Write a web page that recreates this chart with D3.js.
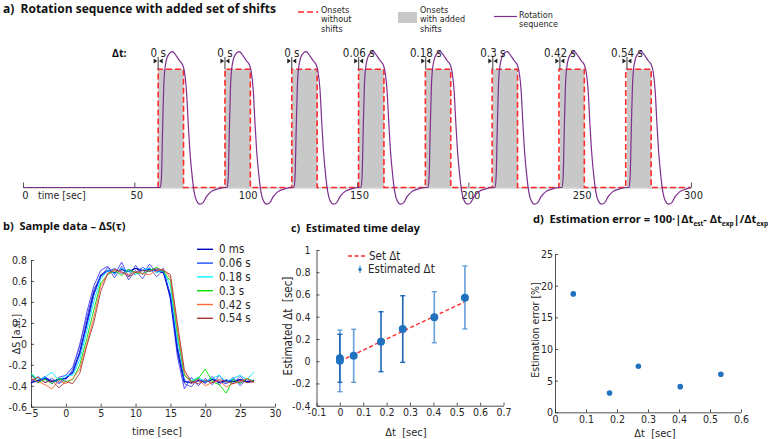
<!DOCTYPE html>
<html>
<head>
<meta charset="utf-8">
<script src="https://cdn.jsdelivr.net/npm/d3@7"></script>
<style>
body { margin: 0; background: #fff; }
svg text { font-family: "Liberation Sans Narrow", "DejaVu Sans Condensed", "Open Sans", sans-serif; fill: #262626; white-space: pre; }
svg text.ttl { font-family: "Open Sans", sans-serif; font-weight: bold; fill: #111; }
</style>
</head>
<body>
<svg id="fig" width="770" height="439"></svg>
<script>
// ---- panel a data ----
var shiftLabels = ["0 s", "0 s", "0 s", "0.06 s", "0.18 s", "0.3 s", "0.42 s", "0.54 s"];
var shifts = [0, 0, 0, 0.06, 0.18, 0.3, 0.42, 0.54];
var onsets = [60.7, 90.7, 120.7, 150.7, 180.7, 210.7, 240.7, 270.7];
var offsets = [72.1, 102.1, 132.1, 162.1, 192.1, 222.1, 252.1, 282.1];
var axisTicksA = [0, 50, 100, 150, 200, 250, 300];

// rotation sequence: times of each cycle and the levels seen in every cycle
var rotTimes = [
	[60.7, 61.7, 62.2, 62.7, 63.2, 63.7, 65.2, 67.1, 69.0, 70.4, 71.6, 72.4, 73.4, 74.2, 74.9, 76.0, 76.8, 77.9, 79.4, 80.8, 82.3, 84.5, 87.5],
	[90.7, 91.7, 92.2, 92.7, 93.2, 93.7, 95.2, 97.1, 99.0, 100.4, 101.6, 102.4, 103.4, 104.2, 104.9, 106.0, 106.8, 107.9, 109.4, 110.8, 112.3, 114.5, 117.5],
	[120.7, 121.7, 122.2, 122.7, 123.2, 123.7, 125.2, 127.1, 129.0, 130.4, 131.6, 132.4, 133.4, 134.2, 134.9, 136.0, 136.8, 137.9, 139.4, 140.8, 142.3, 144.5, 147.5],
	[150.8, 151.8, 152.3, 152.8, 153.3, 153.8, 155.3, 157.2, 159.1, 160.5, 161.7, 162.5, 163.5, 164.3, 165.0, 166.1, 166.9, 168.0, 169.5, 170.9, 172.4, 174.6, 177.6],
	[180.9, 181.9, 182.4, 182.9, 183.4, 183.9, 185.4, 187.3, 189.2, 190.6, 191.8, 192.6, 193.6, 194.4, 195.1, 196.2, 197.0, 198.1, 199.6, 201.0, 202.5, 204.7, 207.7],
	[211.0, 212.0, 212.5, 213.0, 213.5, 214.0, 215.5, 217.4, 219.3, 220.7, 221.9, 222.7, 223.7, 224.5, 225.2, 226.3, 227.1, 228.2, 229.7, 231.1, 232.6, 234.8, 237.8],
	[241.1, 242.1, 242.6, 243.1, 243.6, 244.1, 245.6, 247.5, 249.4, 250.8, 252.0, 252.8, 253.8, 254.6, 255.3, 256.4, 257.2, 258.3, 259.8, 261.2, 262.7, 264.9, 267.9],
	[271.2, 272.2, 272.7, 273.2, 273.7, 274.2, 275.7, 277.6, 279.5, 280.9, 282.1, 282.9, 283.9, 284.7, 285.4, 286.5, 287.3, 288.4, 289.9, 291.3, 292.8, 295.0, 298.0]
];
var rotLevels = [0, 0, 0.1, 0.5, 0.85, 1.0, 1.12, 1.15, 1.11, 1.07, 1.04, 0.99, 0.82, 0.54, 0.32, 0.09, -0.03, -0.11, -0.14, -0.13, -0.08, -0.035, -0.012];

// ---- panel b data ----
var bTime = [-5, -4, -3, -2, -1, 0, 1, 2, 3, 4, 5, 6, 7, 8, 9, 10, 11, 12, 13, 14, 15, 16, 17, 18, 19, 20, 21, 22, 23, 24, 25, 26, 27];
var bNoisyA = [-0.3, -0.36, -0.31, -0.38, -0.32, -0.3, -0.22, -0.02, 0.3, 0.55, 0.7, 0.74, 0.66, 0.78, 0.64, 0.75, 0.66, 0.76, 0.68, 0.72, 0.42, -0.12, -0.43, -0.32, -0.4, -0.33, -0.39, -0.3, -0.38, -0.32, -0.4, -0.33, -0.37];
var bNoisyB = [-0.38, -0.31, -0.37, -0.33, -0.38, -0.34, -0.24, 0.0, 0.25, 0.52, 0.64, 0.73, 0.63, 0.74, 0.61, 0.7, 0.62, 0.73, 0.64, 0.7, 0.46, -0.08, -0.38, -0.41, -0.33, -0.38, -0.31, -0.39, -0.34, -0.38, -0.31, -0.37, -0.36];
var b000 = [-0.37, -0.35, -0.33, -0.36, -0.34, -0.33, -0.27, -0.08, 0.2, 0.48, 0.65, 0.7, 0.68, 0.71, 0.69, 0.72, 0.7, 0.71, 0.7, 0.68, 0.45, -0.05, -0.36, -0.37, -0.35, -0.36, -0.34, -0.37, -0.35, -0.36, -0.34, -0.36, -0.35];
var b006 = [-0.34, -0.37, -0.32, -0.35, -0.37, -0.32, -0.28, -0.1, 0.17, 0.46, 0.66, 0.69, 0.72, 0.67, 0.71, 0.68, 0.73, 0.69, 0.71, 0.69, 0.47, -0.02, -0.35, -0.38, -0.34, -0.37, -0.33, -0.36, -0.38, -0.34, -0.37, -0.33, -0.36];
var b018 = [-0.28, -0.34, -0.32, -0.27, -0.35, -0.3, -0.3, -0.15, 0.12, 0.4, 0.62, 0.7, 0.67, 0.72, 0.69, 0.66, 0.7, 0.72, 0.68, 0.7, 0.55, 0.05, -0.3, -0.35, -0.32, -0.36, -0.33, -0.3, -0.36, -0.33, -0.3, -0.34, -0.27];
var b030 = [-0.28, -0.37, -0.34, -0.38, -0.33, -0.36, -0.34, -0.2, 0.05, 0.32, 0.58, 0.66, 0.7, 0.65, 0.71, 0.68, 0.67, 0.7, 0.73, 0.69, 0.6, 0.1, -0.3, -0.36, -0.33, -0.24, -0.36, -0.39, -0.47, -0.34, -0.38, -0.33, -0.36];
var b042 = [-0.33, -0.36, -0.39, -0.43, -0.35, -0.38, -0.33, -0.24, 0.0, 0.25, 0.55, 0.67, 0.7, 0.68, 0.66, 0.69, 0.67, 0.66, 0.7, 0.71, 0.63, 0.15, -0.28, -0.38, -0.34, -0.4, -0.37, -0.35, -0.41, -0.38, -0.36, -0.33, -0.37];
var b054 = [-0.35, -0.32, -0.37, -0.35, -0.42, -0.36, -0.38, -0.28, -0.02, 0.2, 0.5, 0.67, 0.71, 0.69, 0.64, 0.68, 0.7, 0.69, 0.72, 0.7, 0.66, 0.2, -0.25, -0.36, -0.38, -0.35, -0.37, -0.34, -0.36, -0.38, -0.35, -0.37, -0.36];
var bSeries = [bNoisyA, bNoisyB, b000, b006, b018, b030, b042, b054];
var bColors = ["#3b3bff", "#5050e0", "#0000c0", "#1a4dff", "#00e8ff", "#00dd00", "#ff6a30", "#a83a3a"];
var bLegendNames = ["0 ms", "0.06 s", "0.18 s", "0.3 s", "0.42 s", "0.54 s"];
var bLegendColors = ["#0000c0", "#1a4dff", "#00ffff", "#00e000", "#ff6a30", "#a83a3a"];
var bTicksX = [-5, 0, 5, 10, 15, 20, 25, 30];
var bTicksY = [-0.6, -0.4, -0.2, 0, 0.2, 0.4, 0.6, 0.8];

// ---- panel c data ----
var cSet = [0, 0.535];
var cX = [0, 0, 0.059, 0.176, 0.269, 0.404, 0.535];
var cEst = [0.026, 0.005, 0.05, 0.175, 0.29, 0.395, 0.571];
var cHi = [0.28, 0.242, 0.287, 0.445, 0.589, 0.625, 0.856];
var cLo = [-0.274, -0.19, -0.19, -0.094, -0.01, 0.166, 0.29];
var cBarColor = ["#64a0d7", "#1e64b4", "#64a0d7", "#1e64b4", "#1e64b4", "#64a0d7", "#64a0d7"];
var cTicksX = [-0.1, 0, 0.1, 0.2, 0.3, 0.4, 0.5, 0.6, 0.7];
var cTicksY = [-0.4, -0.2, 0, 0.2, 0.4, 0.6, 0.8, 1];

// ---- panel d data ----
var dX = [0.059, 0.176, 0.269, 0.404, 0.535];
var dErr = [18.7, 3.05, 7.27, 4.05, 6.0];
var dTicksX = [0, 0.1, 0.2, 0.3, 0.4, 0.5, 0.6];
var dTicksY = [0, 5, 10, 15, 20, 25];

var svg = d3.select("#fig");
var axisColor = "#262626";
var tickFont = "10.5px";

function styleAxis(g)
{
	g.attr("font-family", null).attr("font-size", null);
	g.select(".domain").attr("stroke", axisColor).attr("stroke-width", 0.8);
	g.selectAll(".tick line").attr("stroke", axisColor).attr("stroke-width", 0.8);
	g.selectAll(".tick text").attr("fill", axisColor).style("font-size", tickFont);
}

function title(x, y, size, txt)
{
	return svg.append("text").attr("class", "ttl").attr("x", x).attr("y", y)
		.style("font-size", size).text(txt);
}

// ================= panel a =================
var xa = d3.scaleLinear().domain([0, 300]).range([23, 691]);
var ya = d3.scaleLinear().domain([0, 1]).range([187.5, 69.3]);

title(3, 13, "12px", "a)  Rotation sequence with added set of shifts");

var axA = svg.append("g")
	.attr("transform", `translate(0, ${ya(0)})`)
	.call(d3.axisBottom(xa).tickValues(axisTicksA).tickSizeInner(-5).tickSizeOuter(0).tickPadding(4));
styleAxis(axA);
axA.select(".domain").attr("stroke", "#aaa");
axA.selectAll(".tick text").attr("x", 2).style("font-size", "11px");
svg.append("text").attr("x", 38).attr("y", 199).style("font-size", "10.5px").text("time [sec]");

// gray shifted onsets
svg.append("g").selectAll("rect")
	.data(onsets)
	.enter().append("rect")
	.attr("x", function(d, i) { return xa(d + shifts[i]); })
	.attr("y", ya(1))
	.attr("width", function(d, i) { return xa(offsets[i]) - xa(d + shifts[i]); })
	.attr("height", ya(0) - ya(1))
	.attr("fill", "#c8c8c8");

// red dashed onsets without shifts
var boxPts = [];
onsets.forEach(function(d, i) {
	boxPts.push([d, 0], [d, 1], [offsets[i], 1], [offsets[i], 0]);
});
boxPts.push([300, 0]);
svg.append("path")
	.attr("d", d3.line().x(function(d) { return xa(d[0]); }).y(function(d) { return ya(d[1]); })(boxPts))
	.attr("fill", "none")
	.attr("stroke", "#ff2a2a")
	.attr("stroke-width", 1.6)
	.attr("stroke-dasharray", "6,3");

// rotation sequence
var rotPts = [[0, 0]];
rotTimes.forEach(function(row) {
	row.forEach(function(t, j) { rotPts.push([t, rotLevels[j]]); });
});
rotPts.push([300, 0]);
svg.append("path")
	.attr("d", d3.line().curve(d3.curveMonotoneX)
		.x(function(d) { return xa(d[0]); }).y(function(d) { return ya(d[1]); })(rotPts))
	.attr("fill", "none")
	.attr("stroke", "#7e2f8e")
	.attr("stroke-width", 1.2);

// shift labels and markers
svg.append("text").attr("class", "ttl").attr("x", 112).attr("y", 56.5)
	.style("font-size", "10.5px").text("Δt:");
var mk = svg.append("g").selectAll("g")
	.data(onsets)
	.enter().append("g")
	.attr("transform", function(d, i) { return `translate(${xa(d + shifts[i])}, 61)`; });
mk.append("text")
	.attr("y", -4.5).attr("text-anchor", "middle").style("font-size", "11.5px")
	.text(function(d, i) { return shiftLabels[i]; });
mk.append("path").attr("d", "M-4.5,-2.5L-0.8,0L-4.5,2.5Z").attr("fill", "#222");
mk.append("path").attr("d", "M4.5,-2.5L0.8,0L4.5,2.5Z").attr("fill", "#222");
mk.append("line").attr("x1", 0).attr("x2", 0).attr("y1", -4).attr("y2", ya(1) - 61)
	.attr("stroke", "#222").attr("stroke-width", 0.9);

// legend a
svg.append("line").attr("x1", 298).attr("x2", 318).attr("y1", 12).attr("y2", 12)
	.attr("stroke", "#ff2a2a").attr("stroke-width", 1.6).attr("stroke-dasharray", "6,3");
svg.append("rect").attr("x", 398).attr("y", 12).attr("width", 19).attr("height", 11).attr("fill", "#c8c8c8");
svg.append("line").attr("x1", 494).attr("x2", 517).attr("y1", 16.5).attr("y2", 16.5)
	.attr("stroke", "#7e2f8e").attr("stroke-width", 1.2);
var legA = [
	{x: 321, lines: ["Onsets", "without", "shifts"], y0: 12.5},
	{x: 420, lines: ["Onsets", "with added", "shifts"], y0: 12.5},
	{x: 519, lines: ["Rotation", "sequence"], y0: 17.5}
];
legA.forEach(function(l) {
	l.lines.forEach(function(s, i) {
		svg.append("text").attr("x", l.x).attr("y", l.y0 + i * 9.5).style("font-size", "9px").text(s);
	});
});

// ================= panel b =================
var xb = d3.scaleLinear().domain([-5, 30]).range([31, 275]);
var yb = d3.scaleLinear().domain([-0.6, 0.8]).range([406.7, 260]);

title(3, 230, "11px", "b)  Sample data – ΔS(τ)");

var axBx = svg.append("g").attr("transform", `translate(0, ${yb(-0.6)})`)
	.call(d3.axisBottom(xb).tickValues(bTicksX).tickSizeInner(-3).tickSizeOuter(0).tickPadding(3));
styleAxis(axBx);
var axBy = svg.append("g").attr("transform", `translate(${xb(-5)}, 0)`)
	.call(d3.axisLeft(yb).tickValues(bTicksY).tickFormat(function(d) { return String(d); })
		.tickSizeInner(-3).tickSizeOuter(0).tickPadding(4));
styleAxis(axBy);

var lineB = d3.line()
	.x(function(d, i) { return xb(bTime[i]); })
	.y(function(d) { return yb(d); });
svg.append("g").selectAll("path")
	.data(bSeries)
	.enter().append("path")
	.attr("d", lineB)
	.attr("fill", "none")
	.attr("stroke", function(d, i) { return bColors[i]; })
	.attr("stroke-width", function(d, i) { return i == 2 ? 1.4 : 0.9; });

var legB = svg.append("g").selectAll("g")
	.data(bLegendNames)
	.enter().append("g")
	.attr("transform", function(d, i) { return `translate(197, ${249.3 + i * 13.8})`; });
legB.append("line").attr("x1", 0).attr("x2", 16)
	.attr("stroke", function(d, i) { return bLegendColors[i]; }).attr("stroke-width", 1.4);
legB.append("text").attr("x", 22).attr("y", 4).style("font-size", "11.5px").text(function(d) { return d; });

svg.append("text").attr("x", 157).attr("y", 435).attr("text-anchor", "middle").style("font-size", "11px").text("time [sec]");
svg.append("text").attr("transform", "translate(20, 334) rotate(-90)").attr("text-anchor", "middle")
	.style("font-size", "10.5px").text("ΔS [a.u.]");

// ================= panel c =================
var xc = d3.scaleLinear().domain([-0.1, 0.7]).range([316.5, 503.5]);
var yc = d3.scaleLinear().domain([-0.4, 1]).range([405.7, 250]);

title(291, 232, "10.8px", "c)  Estimated time delay");

var axCx = svg.append("g").attr("transform", `translate(0, ${yc(-0.4)})`)
	.call(d3.axisBottom(xc).tickValues(cTicksX).tickFormat(function(d) { return String(d); })
		.tickSizeInner(-3).tickSizeOuter(0).tickPadding(3));
styleAxis(axCx);
var axCy = svg.append("g").attr("transform", `translate(${xc(-0.1)}, 0)`)
	.call(d3.axisLeft(yc).tickValues(cTicksY).tickFormat(function(d) { return String(d); })
		.tickSizeInner(-3).tickSizeOuter(0).tickPadding(6));
styleAxis(axCy);

svg.append("line")
	.attr("x1", xc(cSet[0])).attr("y1", yc(cSet[0]))
	.attr("x2", xc(cSet[1])).attr("y2", yc(cSet[1]))
	.attr("stroke", "#ff2a2a").attr("stroke-width", 1.4).attr("stroke-dasharray", "4,2.5");

var eb = svg.append("g").selectAll("g")
	.data(cX)
	.enter().append("g");
eb.append("line")
	.attr("x1", function(d) { return xc(d); }).attr("x2", function(d) { return xc(d); })
	.attr("y1", function(d, i) { return yc(cHi[i]); }).attr("y2", function(d, i) { return yc(cLo[i]); })
	.attr("stroke", function(d, i) { return cBarColor[i]; }).attr("stroke-width", 1.6);
[cHi, cLo].forEach(function(arr) {
	eb.append("line")
		.attr("x1", function(d) { return xc(d) - 2.5; }).attr("x2", function(d) { return xc(d) + 2.5; })
		.attr("y1", function(d, i) { return yc(arr[i]); }).attr("y2", function(d, i) { return yc(arr[i]); })
		.attr("stroke", function(d, i) { return cBarColor[i]; }).attr("stroke-width", 1.4);
});
eb.append("circle")
	.attr("cx", function(d) { return xc(d); })
	.attr("cy", function(d, i) { return yc(cEst[i]); })
	.attr("r", 4).attr("fill", "#1f72c0");

svg.append("line").attr("x1", 348).attr("x2", 367).attr("y1", 256).attr("y2", 256)
	.attr("stroke", "#ff2a2a").attr("stroke-width", 1.4).attr("stroke-dasharray", "4,2.5");
svg.append("text").attr("x", 369).attr("y", 260).style("font-size", "11.5px").text("Set Δt");
svg.append("line").attr("x1", 360).attr("x2", 360).attr("y1", 265.5).attr("y2", 273)
	.attr("stroke", "#64a0d7").attr("stroke-width", 1.4);
svg.append("circle").attr("cx", 360).attr("cy", 269.3).attr("r", 1.6).attr("fill", "#1f72c0");
svg.append("text").attr("x", 368).attr("y", 273.3).style("font-size", "11.5px").text("Estimated Δt");

svg.append("text").attr("x", 406).attr("y", 436).attr("text-anchor", "middle").style("font-size", "11px").text("Δt  [sec]");
svg.append("text").attr("transform", "translate(292, 326) rotate(-90)").attr("text-anchor", "middle")
	.style("font-size", "11.5px").text("Estimated Δt  [sec]");

// ================= panel d =================
var xd = d3.scaleLinear().domain([0, 0.6]).range([555, 741]);
var yd = d3.scaleLinear().domain([0, 25]).range([412.3, 254]);

var td = svg.append("text").attr("class", "ttl").attr("x", 533).attr("y", 223).style("font-size", "11.1px");
td.append("tspan").text("d)  Estimation error = 100·|Δt");
td.append("tspan").attr("dy", 3).style("font-size", "6.5px").text("est");
td.append("tspan").attr("dy", -3).text("- Δt");
td.append("tspan").attr("dy", 3).style("font-size", "6.5px").text("exp");
td.append("tspan").attr("dy", -3).text("|/Δt");
td.append("tspan").attr("dy", 3).style("font-size", "6.5px").text("exp");

var axDx = svg.append("g").attr("transform", `translate(0, ${yd(0)})`)
	.call(d3.axisBottom(xd).tickValues(dTicksX).tickFormat(function(d) { return String(d); })
		.tickSizeInner(-3).tickSizeOuter(0).tickPadding(3));
styleAxis(axDx);
var axDy = svg.append("g").attr("transform", `translate(${xd(0)}, 0)`)
	.call(d3.axisLeft(yd).tickValues(dTicksY).tickSizeInner(-3).tickSizeOuter(0).tickPadding(2));
styleAxis(axDy);

svg.append("g").selectAll("circle")
	.data(dX)
	.enter().append("circle")
	.attr("cx", function(d) { return xd(d); })
	.attr("cy", function(d, i) { return yd(dErr[i]); })
	.attr("r", 2.8)
	.attr("fill", "#1f72c0");

svg.append("text").attr("x", 655).attr("y", 437).attr("text-anchor", "middle").style("font-size", "11px").text("Δt  [sec]");
svg.append("text").attr("transform", "translate(539, 330) rotate(-90)").attr("text-anchor", "middle")
	.style("font-size", "10.5px").text("Estimation error [%]");
</script>
</body>
</html>
